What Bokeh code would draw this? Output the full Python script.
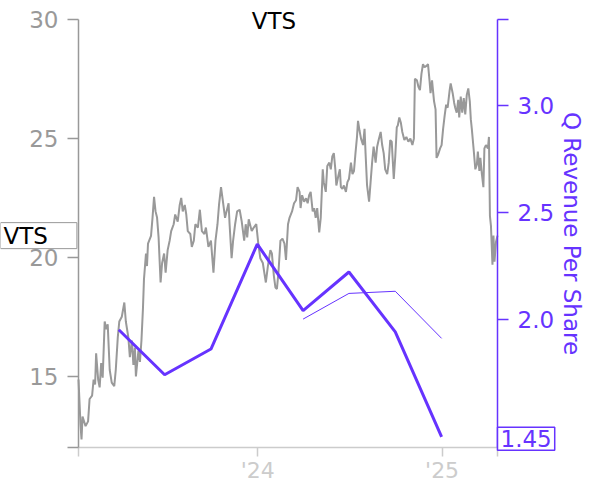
import pandas as pd
from bokeh.plotting import figure
from bokeh.models import Range1d, LinearAxis, FixedTicker, Label, PrintfTickFormatter
from bokeh.embed import file_html
from bokeh.resources import INLINE

TICKER = "VTS"

price_dates = [
    "2023-01-10", "2023-01-14", "2023-01-16", "2023-01-18", "2023-01-24", "2023-01-29",
    "2023-02-01", "2023-02-06", "2023-02-09", "2023-02-12", "2023-02-14", "2023-02-18",
    "2023-02-21", "2023-02-24", "2023-02-27", "2023-03-03", "2023-03-06", "2023-03-09",
    "2023-03-13", "2023-03-17", "2023-03-22", "2023-03-25", "2023-03-29", "2023-04-01",
    "2023-04-06", "2023-04-11", "2023-04-14", "2023-04-19", "2023-04-22", "2023-04-26",
    "2023-04-29", "2023-05-02", "2023-05-04", "2023-05-09", "2023-05-12", "2023-05-15",
    "2023-05-18", "2023-05-20", "2023-05-24", "2023-05-26", "2023-05-28", "2023-06-03",
    "2023-06-06", "2023-06-09", "2023-06-12", "2023-06-15", "2023-06-18", "2023-06-22",
    "2023-06-25", "2023-06-29", "2023-07-02", "2023-07-06", "2023-07-10", "2023-07-13",
    "2023-07-18", "2023-07-21", "2023-07-26", "2023-07-30", "2023-08-02", "2023-08-05",
    "2023-08-09", "2023-08-12", "2023-08-15", "2023-08-20", "2023-08-23", "2023-08-27",
    "2023-08-30", "2023-09-04", "2023-09-08", "2023-09-12", "2023-09-17", "2023-09-20",
    "2023-09-25", "2023-09-30", "2023-10-05", "2023-10-09", "2023-10-13", "2023-10-16",
    "2023-10-20", "2023-10-23", "2023-10-28", "2023-10-31", "2023-11-04", "2023-11-06",
    "2023-11-10", "2023-11-13", "2023-11-17", "2023-11-21", "2023-11-26", "2023-11-30",
    "2023-12-05", "2023-12-08", "2023-12-11", "2023-12-14", "2023-12-20", "2023-12-24",
    "2023-12-29", "2024-01-02", "2024-01-06", "2024-01-11", "2024-01-15", "2024-01-17",
    "2024-01-21", "2024-01-26", "2024-01-29", "2024-02-02", "2024-02-05", "2024-02-08",
    "2024-02-11", "2024-02-15", "2024-02-19", "2024-02-23", "2024-02-26", "2024-03-01",
    "2024-03-04", "2024-03-09", "2024-03-13", "2024-03-17", "2024-03-20", "2024-03-24",
    "2024-03-26", "2024-03-29", "2024-04-02", "2024-04-06", "2024-04-09", "2024-04-12",
    "2024-04-15", "2024-04-19", "2024-04-22", "2024-04-25", "2024-04-28", "2024-05-02",
    "2024-05-05", "2024-05-09", "2024-05-11", "2024-05-15", "2024-05-18", "2024-05-22",
    "2024-05-25", "2024-05-28", "2024-05-31", "2024-06-03", "2024-06-05", "2024-06-09",
    "2024-06-12", "2024-06-14", "2024-06-17", "2024-06-20", "2024-06-24", "2024-06-27",
    "2024-06-30", "2024-07-04", "2024-07-07", "2024-07-10", "2024-07-13", "2024-07-16",
    "2024-07-18", "2024-07-21", "2024-07-24", "2024-07-28", "2024-07-31", "2024-08-02",
    "2024-08-05", "2024-08-09", "2024-08-12", "2024-08-15", "2024-08-18", "2024-08-22",
    "2024-08-25", "2024-08-28", "2024-09-01", "2024-09-04", "2024-09-07", "2024-09-10",
    "2024-09-14", "2024-09-17", "2024-09-20", "2024-09-23", "2024-09-27", "2024-09-30",
    "2024-10-03", "2024-10-05", "2024-10-08", "2024-10-11", "2024-10-14", "2024-10-18",
    "2024-10-22", "2024-10-26", "2024-10-30", "2024-11-03", "2024-11-06", "2024-11-08",
    "2024-11-12", "2024-11-15", "2024-11-18", "2024-11-21", "2024-11-24", "2024-11-27",
    "2024-12-01", "2024-12-04", "2024-12-07", "2024-12-09", "2024-12-12", "2024-12-16",
    "2024-12-19", "2024-12-21", "2024-12-24", "2024-12-28", "2024-12-31", "2025-01-03",
    "2025-01-06", "2025-01-09", "2025-01-12", "2025-01-16", "2025-01-18", "2025-01-22",
    "2025-01-25", "2025-01-27", "2025-01-30", "2025-02-02", "2025-02-04", "2025-02-07",
    "2025-02-10", "2025-02-13", "2025-02-16", "2025-02-19", "2025-02-22", "2025-02-25",
    "2025-02-27", "2025-03-01", "2025-03-05", "2025-03-08", "2025-03-11", "2025-03-13",
    "2025-03-16", "2025-03-18", "2025-03-21", "2025-03-24", "2025-03-26", "2025-03-29",
    "2025-04-02", "2025-04-04", "2025-04-06", "2025-04-08", "2025-04-11", "2025-04-13",
    "2025-04-15", "2025-04-18", "2025-04-21",
]
price_values = [
    14.86, 12.95, 12.34, 13.30, 12.90, 13.10,
    14.04, 14.18, 14.86, 14.65, 15.96, 14.86,
    14.53, 15.55, 14.94, 17.30, 16.98, 17.18,
    15.26, 14.73, 14.58, 15.26, 16.63, 17.30,
    17.50, 18.10, 17.30, 16.63, 15.80, 16.50,
    15.47, 16.20, 14.99, 16.08, 15.60, 16.50,
    17.85, 19.07, 20.16, 19.63, 20.57, 20.90,
    21.67, 22.54, 21.93, 21.67, 20.85, 18.94,
    19.76, 20.16, 19.35, 20.30, 20.70, 21.10,
    21.39, 21.80, 21.50, 22.20, 22.50, 21.93,
    22.20, 21.80, 21.10, 20.98, 20.44, 20.70,
    21.39, 21.25, 22.00, 21.10, 20.98, 21.25,
    20.44, 20.70, 19.35, 20.70, 21.39, 22.20,
    22.95, 22.48, 21.66, 21.93, 22.27, 21.39,
    19.96, 20.70, 21.39, 21.93, 22.00, 21.52,
    20.70, 21.39, 20.84, 21.60, 21.10, 21.25,
    21.39, 20.57, 19.96, 19.76, 19.21, 18.94,
    19.62, 20.30, 20.16, 19.21, 18.73, 18.67,
    19.35, 20.70, 20.78, 20.57, 19.89, 21.39,
    21.66, 21.93, 22.27, 22.40, 22.95, 22.75,
    22.07, 22.61, 22.34, 22.48, 22.27, 22.61,
    22.75, 21.93, 22.07, 21.66, 22.07, 21.05,
    21.66, 23.70, 23.16, 22.75, 23.84, 23.98,
    23.70, 24.24, 24.38, 23.70, 23.02, 23.43,
    23.70, 22.95, 22.88, 23.02, 22.75, 23.16,
    23.29, 23.98, 23.50, 23.63, 24.38, 25.06,
    25.74, 25.33, 24.99, 24.72, 25.40, 24.38,
    23.02, 22.34, 23.16, 23.98, 24.65, 23.98,
    24.65, 24.93, 25.27, 24.72, 24.38, 23.70,
    23.50, 23.98, 24.93, 24.86, 23.29, 24.24,
    25.47, 25.54, 25.88, 25.67, 25.27, 24.93,
    25.06, 24.86, 24.99, 24.72, 24.99, 27.51,
    27.44, 27.17, 27.03, 27.71, 28.12, 27.99,
    28.05, 28.12, 27.44, 26.90, 27.44, 26.56,
    26.22, 24.18, 24.31, 24.58, 24.72, 25.40,
    25.95, 26.42, 26.29, 27.03, 27.31, 26.90,
    26.49, 26.29, 26.08, 26.62, 25.88, 26.76,
    26.08, 26.69, 26.01, 26.83, 27.10, 26.56,
    25.81, 25.40, 24.45, 23.70, 23.90, 24.45,
    23.63, 24.18, 23.50, 22.95, 24.58, 24.72,
    24.58, 25.06, 21.73, 21.32, 19.69, 20.91,
    19.82, 20.64, 20.91,
]

rev_dates = ["2023-03-31", "2023-06-30", "2023-09-30", "2023-12-31",
             "2024-03-31", "2024-06-30", "2024-09-30", "2024-12-31"]
rev_values = [1.95, 1.74, 1.86, 2.35, 2.04, 2.22, 1.94, 1.45]

est_dates = ["2024-03-31", "2024-06-30", "2024-09-30", "2024-12-31"]
est_values = [2.00, 2.12, 2.13, 1.91]

year_ticks = ["2024-01-01", "2025-01-01"]
year_labels = ["'24", "'25"]
left_ticks = [12, 15, 20, 25, 30]
right_ticks = [2.0, 2.5, 3.0, 3.4]
left_range = (12, 30)
right_range = (1.4, 3.4)

PURPLE = "#6633ff"
GREY = "#999999"
LIGHT = "#cccccc"
FONT = "DejaVu Sans"
FS = "23px"

# canvas size and the pixel box where the axes are drawn
W, H = 584, 484
PLOT_LEFT, PLOT_RIGHT, PLOT_TOP, PLOT_BOTTOM = 78, 497, 19, 447


def ms(d):
    return int(pd.Timestamp(d).value // 10**6)


px = pd.to_datetime(price_dates)
x_start = ms(price_dates[0])
x_end = ms(price_dates[-1])

# ranges cover the whole canvas; axes are drawn at fixed locations
kx = (x_end - x_start) / (PLOT_RIGHT - PLOT_LEFT)
x_lo, x_hi = x_start - PLOT_LEFT * kx, x_end + (W - PLOT_RIGHT) * kx
ky = (left_range[1] - left_range[0]) / (PLOT_BOTTOM - PLOT_TOP)
y_lo, y_hi = left_range[0] - (H - PLOT_BOTTOM) * ky, left_range[1] + PLOT_TOP * ky
kr = (right_range[1] - right_range[0]) / (PLOT_BOTTOM - PLOT_TOP)
r_lo, r_hi = right_range[0] - (H - PLOT_BOTTOM) * kr, right_range[1] + PLOT_TOP * kr

p = figure(width=W, height=H, x_axis_type="datetime",
           x_range=Range1d(x_lo, x_hi), y_range=Range1d(y_lo, y_hi),
           output_backend="svg", toolbar_location=None, title=None,
           min_border=0)
p.min_border_left = 0
p.min_border_right = 0
p.min_border_top = 0
p.min_border_bottom = 0
p.xgrid.visible = False
p.ygrid.visible = False
p.outline_line_color = None
p.background_fill_color = "white"
p.border_fill_color = "white"
p.extra_y_ranges = {"rev": Range1d(r_lo, r_hi)}

# left axis
ya = p.yaxis[0]
ya.fixed_location = x_start
ya.bounds = left_range
ya.ticker = FixedTicker(ticks=left_ticks)
ya.major_label_overrides = {left_ticks[0]: ""}
ya.axis_line_color = GREY
ya.axis_line_width = 1.5
ya.major_tick_line_color = GREY
ya.major_tick_line_width = 1.5
ya.minor_tick_line_color = None
ya.major_tick_in = 0
ya.major_tick_out = 11
ya.major_label_standoff = 9
ya.major_label_text_color = GREY
ya.major_label_text_font = FONT
ya.major_label_text_font_size = FS

# x axis
xa = p.xaxis[0]
xa.fixed_location = left_range[0]
xa.bounds = (x_start, x_end)
xt = [x_start] + [ms(d) for d in year_ticks] + [x_end]
xa.ticker = FixedTicker(ticks=xt)
ov = {x_start: "", x_end: ""}
for d, lab in zip(year_ticks, year_labels):
    ov[ms(d)] = lab
xa.major_label_overrides = ov
xa.axis_line_color = LIGHT
xa.axis_line_width = 1.5
xa.major_tick_line_color = LIGHT
xa.major_tick_line_width = 1.5
xa.minor_tick_line_color = None
xa.major_tick_in = 0
xa.major_tick_out = 9
xa.major_label_standoff = 1
xa.major_label_text_color = LIGHT
xa.major_label_text_font = FONT
xa.major_label_text_font_size = "22px"

# right axis
ra = LinearAxis(y_range_name="rev", ticker=FixedTicker(ticks=right_ticks),
                formatter=PrintfTickFormatter(format="%.1f"),
                axis_label="Q Revenue Per Share")
ra.fixed_location = x_end
ra.bounds = right_range
ra.major_label_overrides = {right_ticks[-1]: ""}
ra.axis_line_color = PURPLE
ra.axis_line_width = 1.5
ra.major_tick_line_color = PURPLE
ra.major_tick_line_width = 1.5
ra.minor_tick_line_color = None
ra.major_tick_in = 0
ra.major_tick_out = 11
ra.major_label_standoff = 9
ra.major_label_text_color = PURPLE
ra.major_label_text_font = FONT
ra.major_label_text_font_size = FS
ra.axis_label_text_color = PURPLE
ra.axis_label_text_font = FONT
ra.axis_label_text_font_size = FS
ra.axis_label_text_font_style = "normal"
ra.axis_label_standoff = 2
p.add_layout(ra, "right")

# data
p.line(px, price_values, color=GREY, line_width=2)
p.line(pd.to_datetime(rev_dates), rev_values, y_range_name="rev",
       color=PURPLE, line_width=3)
p.line(pd.to_datetime(est_dates), est_values, y_range_name="rev",
       color=PURPLE, line_width=1)

# title
mid = (x_start + x_end) / 2
p.add_layout(Label(x=mid, y=left_range[1], text=TICKER, text_align="center",
                   text_baseline="alphabetic", x_offset=-14, y_offset=-1,
                   text_font=FONT, text_font_size=FS, text_color="black"))

# last price tag
p.add_layout(Label(x=x_start, y=price_values[-1], text=TICKER, text_align="left",
                   text_baseline="middle", x_offset=-PLOT_LEFT, y_offset=0,
                   text_font=FONT, text_font_size=FS, text_color="black",
                   background_fill_color="white", border_line_color=GREY,
                   border_line_width=1, padding=(3, 29, 0, 0)))

# last revenue tag
p.add_layout(Label(x=x_end, y=rev_values[-1], y_range_name="rev",
                   text=f"{rev_values[-1]:.2f}", text_align="left",
                   text_baseline="middle", x_offset=0, y_offset=-2,
                   text_font=FONT, text_font_size=FS, text_color=PURPLE,
                   background_fill_color="white", border_line_color=PURPLE,
                   border_line_width=1.5, padding=(3, 3, 3, 3)))

open("out.html", "w").write(file_html(p, INLINE))
